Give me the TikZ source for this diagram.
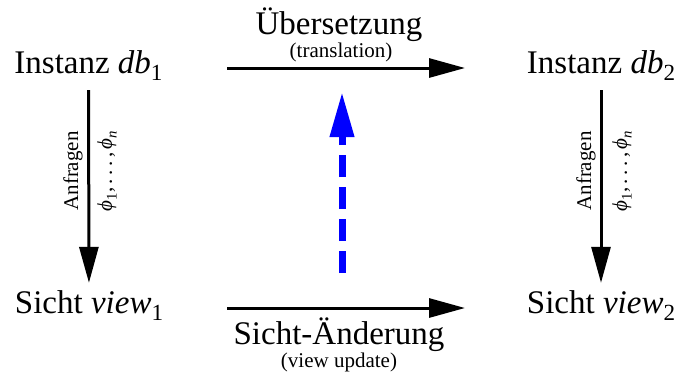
\documentclass[tikz,border=0pt]{standalone}
\usepackage{fontspec}
\setmainfont{Liberation Serif}
\usetikzlibrary{arrows.meta}

% subscript set in a smaller size, lowered below the baseline
\newcommand{\lowidx}[1]{\raisebox{-0.22em}{\scalebox{0.7}{#1}}}
\newcommand{\Phii}{\textit{\char"03D5}}

\begin{document}
\begin{tikzpicture}[x=1pt,y=-1pt,
  big/.style={font=\fontsize{33}{36}\selectfont, inner sep=0pt, anchor=base},
  small/.style={font=\fontsize{21}{24}\selectfont, inner sep=0pt, anchor=base},
  side/.style={font=\fontsize{21}{24}\selectfont, inner sep=0pt, rotate=90},
  place/.style={big, text height=23pt, text depth=7pt},
  flow/.style={line width=3pt, -{Triangle[length=36pt,width=19pt]}},
  back/.style={line width=7pt, blue, dash pattern=on 21.7pt off 10.3pt,
    -{Triangle[length=45pt,width=23pt]}}]
  \useasboundingbox (0,0) rectangle (680,376);

  % the four corners
  \node[place] (db1) at (88.5,73) {Instanz \textit{db}\lowidx{1}};
  \node[place] (db2) at (601,73) {Instanz \textit{db}\lowidx{2}};
  \node[place] (v1) at (89,313) {Sicht \textit{view}\lowidx{1}};
  \node[place] (v2) at (601,313) {Sicht \textit{view}\lowidx{2}};

  % queries from instance to view
  \draw[flow, shorten <=10pt, shorten >=7pt] (db1) -- (v1);
  \draw[flow, shorten <=10pt, shorten >=7pt] (db2) -- (v2);
  \node[side] (q1) at (73,171) {Anfragen};
  \node[side] (p1) at (107,171) {\Phii\lowidx{1},\,.\,.\,.\,,\,\Phii\lowidx{\textit{n}}};
  \node[side] (q2) at (586,171) {Anfragen};
  \node[side] (p2) at (622,171) {\Phii\lowidx{1},\,.\,.\,.\,,\,\Phii\lowidx{\textit{n}}};

  % horizontal mappings
  \coordinate (ta) at (227,68);
  \coordinate (tb) at (465,68);
  \coordinate (ba) at (227,308);
  \coordinate (bb) at (465,308);
  \draw[flow] (ta) -- (tb);
  \draw[flow] (ba) -- (bb);
  \node[big] (tl) at (339,34) {Übersetzung};
  \node[small] (tl2) at (341,57) {(translation)};
  \node[big] (bl) at (339,344) {Sicht-Änderung};
  \node[small] (bl2) at (339,367) {(view update)};

  % view update propagated back
  \coordinate (ua) at (342,273);
  \coordinate (ub) at (342,92);
  \draw[back] (ua) -- (ub);
\end{tikzpicture}
\end{document}
